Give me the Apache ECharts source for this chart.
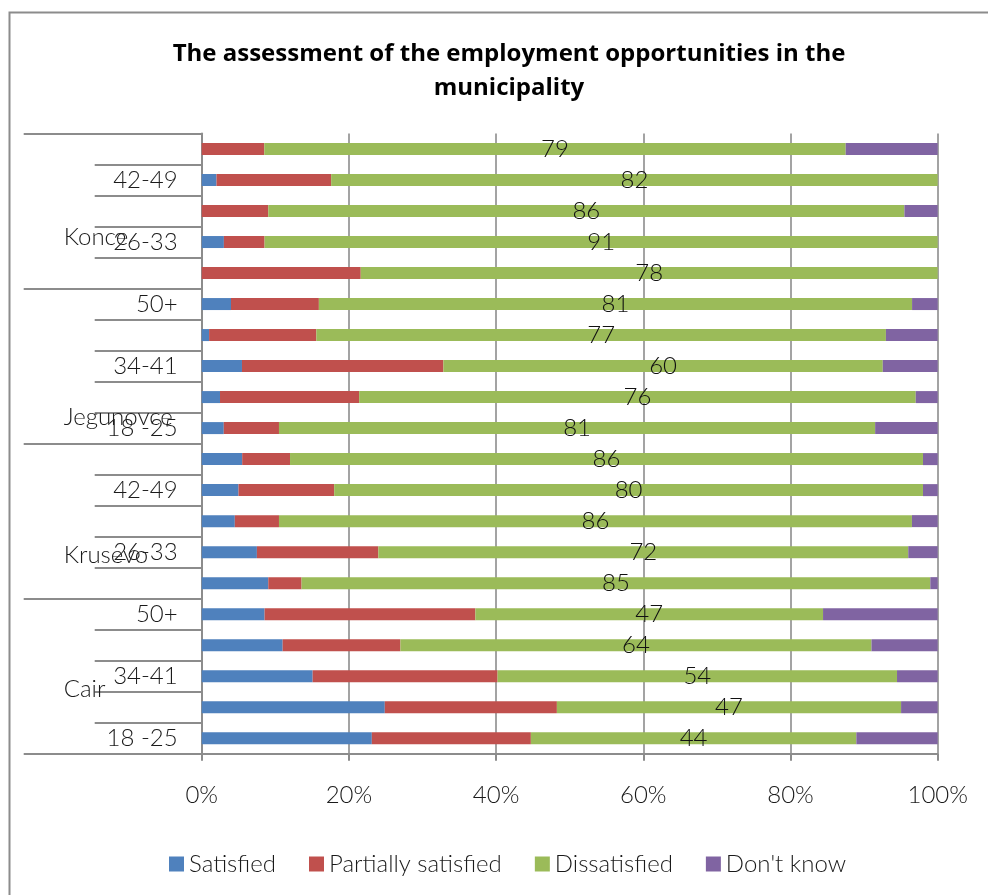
<!DOCTYPE html>
<html>
<head>
<meta charset="utf-8">
<title>Employment opportunities assessment</title>
<script src="https://cdn.jsdelivr.net/npm/echarts@6/dist/echarts.min.js"></script>
<style>
  html, body { margin: 0; padding: 0; background: #fff; }
  #chart { width: 988px; height: 895px; }
</style>
</head>
<body>
<div id="chart"></div>
<script>
// Rows run bottom to top: each municipality with its five age groups.
const ageGroups = ['18 -25', '26-33', '34-41', '42-49', '50+'];
const municipalities = ['Cair', 'Krusevo', 'Jegunovce', 'Konce'];
const rowLabels = municipalities.flatMap(() => ageGroups);

// Answers (%), one value per row in the order above.
const satisfied          = [23, 25, 15, 11, 8.5,   9, 7.5, 4.5, 5, 5.5,    3, 2.5, 5.5, 1, 4,        0, 3, 0, 2, 0];
const partiallySatisfied = [21.5, 23.5, 25, 16, 28.5,   4.5, 16.5, 6, 13, 6.5,   7.5, 19, 27.5, 14.5, 12,   21.5, 5.5, 9, 15.5, 8.5];
const dissatisfied       = [44, 47, 54, 64, 47,    85, 72, 86, 80, 86,    81, 76, 60, 77, 81,       78, 91, 86, 82, 79];
const dontKnow           = [11, 5, 5.5, 9, 15.5,   1, 4, 3.5, 2, 2,       8.5, 3, 7.5, 7, 3.5,      0, 0, 4.5, 0, 12.5];

const xTicks = [0, 20, 40, 60, 80, 100];

// Group-label drop (px) below the centre of each municipality band.
const groupLabelDrop = [13, 34, 51, 26];

const seriesDefs = [
  { name: 'Satisfied',           values: satisfied,          color: '#4F81BD' },
  { name: 'Partially satisfied', values: partiallySatisfied, color: '#C0504D' },
  { name: 'Dissatisfied',        values: dissatisfied,       color: '#9BBB59', labelled: true },
  { name: "Don't know",          values: dontKnow,           color: '#8064A2' }
];

// 100% stacking: each row is scaled by its own total.
const rowTotals = rowLabels.map((_, i) => seriesDefs.reduce((s, d) => s + d.values[i], 0));

const FONT = 'Lato';
const lineGray = '#8c8c8c';
const textStyleBase = { fontFamily: FONT, fontWeight: 300, fontSize: 24, color: '#1a1a1a' };

// Rich styles for the municipality labels: a fixed-width, left-aligned box
// pushed down by its own top padding.
const groupRich = {};
municipalities.forEach((m, i) => {
  groupRich['g' + i] = Object.assign({}, textStyleBase, {
    width: 138,
    align: 'left',
    padding: [groupLabelDrop[i] * 2, 0, 0, 0]
  });
});

const chart = echarts.init(document.getElementById('chart'), null, { renderer: 'canvas' });

chart.setOption({
  animation: false,
  backgroundColor: '#ffffff',
  title: {
    text: 'The assessment of the employment opportunities in the\nmunicipality',
    left: 504,
    top: 32,
    textAlign: 'center',
    textStyle: { fontFamily: 'Open Sans', fontWeight: 'bold', fontSize: 24, lineHeight: 34, color: '#000' }
  },
  graphic: [{
    type: 'rect',
    silent: true,
    shape: { x: 9.5, y: 12.5, width: 1100, height: 1000 },
    style: { fill: 'none', stroke: lineGray, lineWidth: 2 }
  }],
  legend: {
    left: 164,
    top: 847,
    itemWidth: 15,
    itemHeight: 15,
    itemGap: 33,
    icon: 'rect',
    textStyle: Object.assign({}, textStyleBase),
    data: seriesDefs.map(d => d.name)
  },
  grid: { left: 201.7, right: 50.3, top: 133.5, bottom: 141.3, containLabel: false, outerBoundsMode: 'none' },
  xAxis: {
    type: 'value',
    min: 0,
    max: 100,
    interval: 20,
    axisLine: { show: true, lineStyle: { color: lineGray, width: 2 } },
    axisTick: { show: true, length: 7, lineStyle: { color: lineGray, width: 2 } },
    splitLine: { show: true, lineStyle: { color: lineGray, width: 1.6 } },
    axisLabel: Object.assign({}, textStyleBase, {
      margin: 30,
      formatter: v => xTicks.includes(v) ? v + '%' : ''
    })
  },
  yAxis: [{
    type: 'category',
    data: rowLabels,
    position: 'left',
    axisLine: { show: true, lineStyle: { color: lineGray, width: 2 } },
    axisTick: { show: true, interval: 0, length: 107, lineStyle: { color: lineGray, width: 2 } },
    axisLabel: Object.assign({}, textStyleBase, { interval: 1, margin: 24 }),
    splitLine: { show: false }
  }, {
    type: 'category',
    data: municipalities,
    position: 'left',
    offset: 0,
    axisLine: { show: false },
    axisTick: { show: true, interval: 0, length: 178, lineStyle: { color: lineGray, width: 2 } },
    axisLabel: Object.assign({}, textStyleBase, {
      interval: 0,
      margin: 0,
      formatter: (v, i) => '{g' + i + '|' + v + '}',
      rich: groupRich
    }),
    splitLine: { show: false }
  }],
  series: seriesDefs.map(d => ({
    name: d.name,
    type: 'bar',
    stack: 'total',
    yAxisIndex: 0,
    barWidth: 12,
    itemStyle: { color: d.color },
    data: d.values.map((v, i) => v / rowTotals[i] * 100),
    label: d.labelled ? Object.assign({}, textStyleBase, {
      show: true,
      position: 'inside',
      color: '#111',
      formatter: p => String(d.values[p.dataIndex])
    }) : { show: false }
  }))
});
</script>
</body>
</html>
